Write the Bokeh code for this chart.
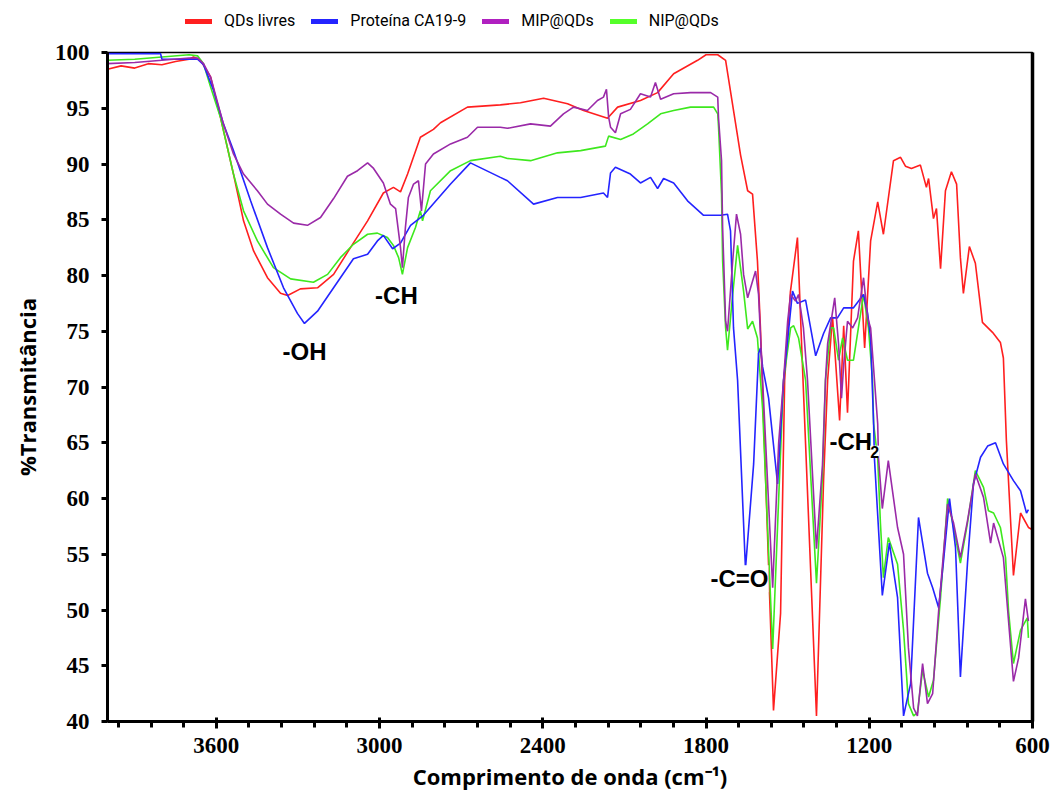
from bokeh.plotting import figure
from bokeh.layouts import column
from bokeh.models import (Range1d, FixedTicker, LinearAxis, Legend, LegendItem, Label)
from bokeh.embed import file_html
from bokeh.resources import INLINE

# ---------------- data ----------------
red_x = [4000, 3950, 3900, 3850, 3800, 3750, 3700, 3684, 3658, 3621, 3585, 3537, 3500, 3463, 3412, 3364, 3338,
         3291, 3228, 3169, 3107, 3044, 2986, 2949, 2923, 2897, 2850, 2802, 2776, 2677, 2556, 2482, 2397, 2309,
         2250, 2162, 2125, 2041, 1978, 1919, 1831, 1800, 1757, 1728, 1699, 1673, 1647, 1629, 1611, 1600, 1592,
         1552, 1526, 1511, 1490, 1464, 1442, 1394, 1368, 1353, 1335, 1309, 1294, 1280, 1258, 1240, 1217, 1195,
         1169, 1148, 1111, 1085, 1067, 1045, 1012, 990, 982, 964, 953, 938, 920, 898, 879, 865, 854, 832, 810,
         784, 747, 718, 707, 696, 670, 644, 615, 600]
red_y = [98.5, 98.8, 98.6, 99.0, 98.9, 99.2, 99.4, 99.6, 99.3, 97.8, 94.2, 89.1, 84.9, 82.2, 79.8, 78.4, 78.2,
         78.8, 78.9, 80.1, 82.5, 84.9, 87.4, 87.9, 87.5, 89.1, 92.4, 93.1, 93.7, 95.1, 95.3, 95.5, 95.9, 95.4,
         94.8, 94.1, 95.1, 95.7, 96.4, 98.1, 99.3, 99.8, 99.8, 99.3, 94.8, 90.8, 87.6, 87.3, 81.3, 75.3, 69.7,
         41.0, 49.7, 70.6, 78.5, 83.4, 69.7, 40.5, 61.6, 70.6, 76.3, 67.0, 75.5, 67.7, 81.3, 84.0, 73.5, 83.1,
         86.6, 83.7, 90.3, 90.6, 89.8, 89.6, 89.9, 87.9, 88.7, 85.1, 86.0, 80.6, 87.6, 89.3, 88.2, 81.6, 78.4,
         82.6, 81.1, 75.8, 74.9, 74.0, 72.6, 65.2, 53.1, 58.7, 57.4, 57.2]

blue_x = [4000, 3805, 3800, 3669, 3647, 3610, 3574, 3537, 3474, 3412, 3353, 3302, 3276, 3228, 3169, 3096, 3044,
          3008, 2986, 2952, 2923, 2886, 2839, 2739, 2666, 2556, 2530, 2434, 2346, 2261, 2177, 2162, 2151, 2133,
          2078, 2041, 2004, 1978, 1956, 1919, 1868, 1809, 1746, 1721, 1710, 1699, 1684, 1655, 1625, 1607, 1600,
          1592, 1570, 1537, 1515, 1482, 1464, 1434, 1397, 1368, 1342, 1317, 1294, 1258, 1221, 1206, 1195, 1184,
          1181, 1152, 1126, 1096, 1074, 1048, 1019, 986, 967, 945, 927, 905, 883, 865, 839, 817, 791, 765, 736,
          707, 670, 644, 622, 615]
blue_y = [99.9, 99.9, 99.4, 99.4, 98.9, 96.6, 93.6, 91.2, 86.7, 82.5, 78.9, 76.6, 75.7, 76.8, 78.9, 81.5, 81.9,
          83.1, 83.6, 82.4, 82.9, 84.5, 85.4, 88.2, 90.1, 88.8, 88.5, 86.4, 87.0, 87.0, 87.4, 87.0, 89.2, 89.7,
          89.1, 88.3, 88.8, 87.8, 88.7, 88.3, 86.7, 85.4, 85.4, 85.5, 84.0, 75.3, 70.6, 53.7, 63.1, 73.0, 73.5,
          71.8, 69.0, 61.3, 70.6, 78.6, 77.5, 77.8, 72.8, 74.8, 76.2, 76.2, 77.1, 77.1, 78.3, 76.6, 74.4, 66.7,
          63.6, 51.3, 56.0, 51.1, 40.5, 43.4, 58.3, 53.3, 52.0, 50.2, 54.4, 60.0, 55.6, 44.0, 54.2, 61.3, 63.7,
          64.7, 65.0, 63.1, 61.6, 60.7, 58.7, 59.0]

purple_x = [4000, 3900, 3800, 3700, 3669, 3647, 3621, 3574, 3537, 3500, 3449, 3412, 3364, 3316, 3265, 3217, 3169,
            3118, 3081, 3044, 3022, 2986, 2960, 2941, 2923, 2916, 2905, 2894, 2875, 2857, 2846, 2831, 2802, 2739,
            2677, 2640, 2556, 2530, 2445, 2372, 2324, 2287, 2236, 2199, 2177, 2166, 2158, 2151, 2133, 2114, 2078,
            2041, 2004, 1986, 1967, 1919, 1857, 1783, 1757, 1754, 1743, 1739, 1728, 1721, 1702, 1688, 1673, 1662,
            1647, 1618, 1607, 1592, 1555, 1533, 1515, 1500, 1489, 1471, 1460, 1442, 1427, 1394, 1372, 1361, 1353,
            1327, 1313, 1302, 1294, 1280, 1261, 1243, 1221, 1206, 1195, 1169, 1166, 1152, 1130, 1096, 1074, 1056,
            1037, 1023, 1004, 986, 967, 945, 912, 890, 865, 839, 810, 780, 754, 743, 707, 692, 670, 651, 626, 615]
purple_y = [99.0, 99.1, 99.3, 99.5, 99.5, 99.0, 97.8, 93.6, 90.9, 89.1, 87.6, 86.4, 85.5, 84.7, 84.5, 85.2, 86.9,
            88.9, 89.4, 90.1, 89.6, 88.3, 86.4, 86.0, 82.5, 80.7, 84.3, 87.0, 88.2, 88.5, 85.8, 90.0, 90.9, 91.8,
            92.4, 93.3, 93.3, 93.2, 93.6, 93.4, 94.5, 95.1, 94.8, 95.7, 96.0, 96.7, 94.2, 93.3, 92.8, 94.5, 94.9,
            96.3, 96.0, 97.3, 95.8, 96.3, 96.4, 96.4, 96.0, 94.1, 90.3, 84.3, 75.9, 75.0, 81.3, 85.5, 83.7, 80.1,
            78.0, 80.4, 78.3, 70.6, 52.0, 65.0, 70.6, 75.9, 78.3, 77.7, 78.3, 75.3, 70.6, 55.5, 63.0, 70.6, 73.9,
            78.0, 73.9, 69.0, 72.0, 75.9, 75.3, 76.2, 79.8, 76.2, 75.3, 66.7, 63.6, 59.1, 63.4, 57.4, 55.0, 46.6,
            41.2, 40.5, 45.2, 41.6, 42.5, 49.9, 59.5, 57.8, 54.7, 58.0, 62.2, 60.1, 56.0, 57.8, 54.7, 50.2, 43.6,
            45.7, 51.0, 49.0]

green_x = [4000, 3900, 3800, 3700, 3669, 3647, 3621, 3585, 3537, 3500, 3449, 3390, 3327, 3243, 3191, 3144, 3096,
           3044, 3008, 2971, 2949, 2930, 2916, 2897, 2868, 2850, 2842, 2813, 2739, 2666, 2556, 2530, 2445, 2346,
           2261, 2170, 2158, 2114, 2067, 2015, 1967, 1919, 1857, 1772, 1757, 1754, 1743, 1739, 1728, 1721, 1702,
           1684, 1662, 1647, 1629, 1611, 1592, 1555, 1533, 1515, 1489, 1478, 1460, 1434, 1394, 1372, 1361, 1342,
           1331, 1313, 1298, 1280, 1258, 1240, 1221, 1203, 1188, 1184, 1169, 1159, 1148, 1130, 1096, 1074, 1056,
           1037, 1023, 1004, 982, 964, 938, 912, 890, 865, 839, 810, 780, 762, 743, 718, 699, 688, 670, 644, 619,
           615]
green_y = [99.3, 99.4, 99.6, 99.8, 99.7, 99.0, 96.9, 94.2, 89.1, 85.8, 83.1, 80.7, 79.7, 79.4, 80.1, 81.6, 82.8,
           83.7, 83.8, 83.4, 82.7, 81.6, 80.1, 82.5, 84.3, 85.8, 84.9, 87.6, 89.4, 90.3, 90.7, 90.5, 90.3, 91.0,
           91.2, 91.6, 92.5, 92.2, 92.7, 93.6, 94.5, 94.8, 95.1, 95.1, 94.5, 93.3, 87.3, 81.3, 75.3, 73.3, 78.3,
           82.7, 78.6, 75.2, 75.9, 74.4, 68.0, 46.5, 60.0, 70.6, 75.3, 75.5, 74.4, 70.6, 52.4, 62.0, 70.6, 75.3,
           75.3, 72.4, 74.4, 72.4, 72.4, 75.3, 78.3, 75.3, 70.6, 66.7, 63.6, 57.8, 52.9, 56.5, 54.1, 48.2, 41.6,
           40.5, 40.8, 44.6, 42.2, 43.7, 51.1, 60.0, 57.4, 54.2, 57.8, 62.5, 61.0, 58.9, 58.7, 57.4, 54.7, 49.9,
           45.2, 48.2, 49.3, 47.5]

x_ticks = [600, 1200, 1800, 2400, 3000, 3600]
y_ticks = [40, 45, 50, 55, 60, 65, 70, 75, 80, 85, 90, 95, 100]
series_names = ["QDs livres", "Proteína CA19-9", "MIP@QDs", "NIP@QDs"]

# annotations: (text, wavenumber, %T)
annotations = [("-OH", 3276, 73.2), ("-CH", 2938, 78.2), ("-C=O", 1677, 52.8), ("-CH", 1268, 65.1)]
sub_annotation = ("2", 1180, 64.2)

# ---------------- figure ----------------
RED, BLUE, PURPLE, GREEN = "#ff1f1f", "#2424ff", "#9a2aa8", "#3ee81e"
LEG_H = 38

p = figure(width=1057, height=800 - LEG_H, output_backend="svg", toolbar_location=None,
           x_range=Range1d(4000, 600), y_range=Range1d(40, 100),
           min_border_left=107, min_border_right=25, min_border_top=14, min_border_bottom=79)
p.xgrid.visible = False
p.ygrid.visible = False
p.background_fill_color = "white"
p.border_fill_color = "white"
p.outline_line_color = "black"
p.outline_line_width = 1.5

minor = [v for v in range(720, 4000, 120) if v not in x_ticks]
p.xaxis.ticker = FixedTicker(ticks=x_ticks, minor_ticks=minor)
p.yaxis.ticker = FixedTicker(ticks=y_ticks)

tick_font = "Liberation Serif"
for ax in (p.xaxis[0], p.yaxis[0]):
    ax.axis_line_width = 3
    ax.axis_line_color = "black"
    ax.major_tick_line_width = 3
    ax.major_tick_line_color = "black"
    ax.major_label_text_font = tick_font
    ax.major_label_text_font_style = "bold"
    ax.major_label_text_font_size = "23px"
    ax.major_label_text_color = "black"
    ax.axis_label_text_font = "Open Sans"
    ax.axis_label_text_font_style = "bold"
    ax.axis_label_text_font_size = "22px"
    ax.axis_label_text_color = "black"

p.xaxis.major_tick_in = 4
p.xaxis.major_tick_out = 7
p.xaxis.minor_tick_in = 0
p.xaxis.minor_tick_out = 6
p.xaxis.minor_tick_line_width = 3
p.xaxis.minor_tick_line_color = "black"
p.xaxis.major_label_standoff = 9
p.xaxis.axis_label = "Comprimento de onda (cm⁻¹)"
p.xaxis.axis_label_standoff = 5

p.yaxis.major_tick_in = 0
p.yaxis.major_tick_out = 6
p.yaxis.minor_tick_line_color = None
p.yaxis.major_label_standoff = 12
p.yaxis.axis_label = "%Transmitância"
p.yaxis.axis_label_standoff = 10

right = LinearAxis(ticker=FixedTicker(ticks=[]), axis_line_width=3.5, axis_line_color="black",
                   major_label_text_font_size="0px", major_tick_line_color=None, minor_tick_line_color=None)
p.add_layout(right, "right")

lw = 1.6
r_red = p.line(red_x, red_y, line_color=RED, line_width=lw)
r_green = p.line(green_x, green_y, line_color=GREEN, line_width=lw)
r_blue = p.line(blue_x, blue_y, line_color=BLUE, line_width=lw)
r_purple = p.line(purple_x, purple_y, line_color=PURPLE, line_width=lw)

for txt, x, y in annotations:
    p.add_layout(Label(x=x, y=y, text=txt, text_align="center", text_baseline="middle",
                       text_font="Liberation Sans", text_font_style="bold", text_font_size="24px",
                       text_color="black", background_fill_color="white"))
st, sx, sy = sub_annotation
p.add_layout(Label(x=sx, y=sy, text=st, text_align="center", text_baseline="middle",
                   text_font="Liberation Sans", text_font_style="bold", text_font_size="16px",
                   text_color="black", background_fill_color="white"))

# ---------------- legend strip above the chart ----------------
lg = figure(width=1057, height=LEG_H, output_backend="svg", toolbar_location=None,
            x_axis_type=None, y_axis_type=None, x_range=Range1d(0, 1), y_range=Range1d(0, 1),
            min_border=0, outline_line_color=None)
lg.xgrid.visible = False
lg.ygrid.visible = False
colors = [RED, BLUE, "#b020c0", "#55ff2a"]
# proxy strokes lie outside the strip's range: only their legend keys show
proxies = [lg.line([5, 6], [5, 6], line_color=c, line_width=5, line_cap="round") for c in colors]
legend = Legend(items=[LegendItem(label=n, renderers=[r]) for n, r in zip(series_names, proxies)],
                orientation="horizontal", location=(78, 8), padding=0, margin=0,
                spacing=16, glyph_width=27, glyph_height=12, label_standoff=12,
                border_line_color=None, background_fill_alpha=0,
                label_text_font="Roboto", label_text_font_size="16px", label_text_color="black",
                label_text_font_style="normal")
lg.add_layout(legend, "center")

layout = column(lg, p, spacing=0)
open("out.html", "w").write(file_html(layout, INLINE))
